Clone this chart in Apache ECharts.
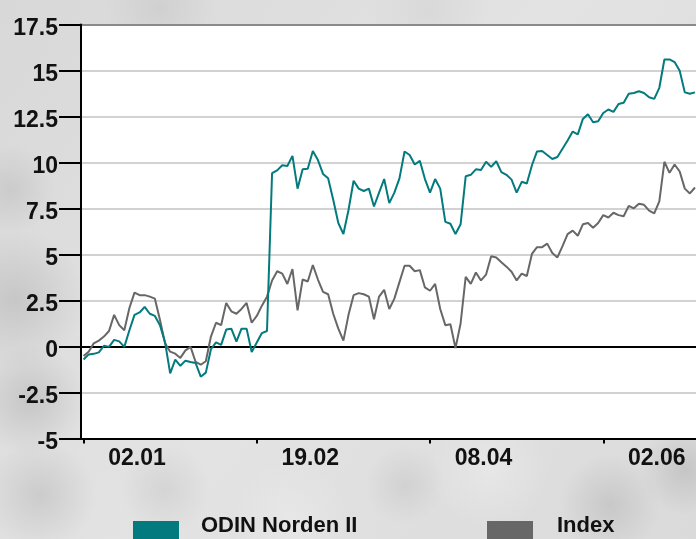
<!DOCTYPE html>
<html>
<head>
<meta charset="utf-8">
<script src="https://cdn.jsdelivr.net/npm/echarts@6/dist/echarts.min.js"></script>
<style>
  html, body { margin: 0; padding: 0; background: #dcdcdc; }
  #chart { width: 696px; height: 539px; }
</style>
</head>
<body>
<div id="chart"></div>
<script>
// Daily returns since start of year, in percent
const odinNorden = [-0.71,-0.43,-0.40,-0.32,0.04,-0.02,0.36,0.28,-0.02,0.88,1.72,1.85,2.15,1.78,1.66,1.16,0.22,-1.46,-0.71,-1.05,-0.77,-0.84,-0.90,-1.64,-1.42,-0.15,0.22,0.09,0.92,0.97,0.26,0.97,0.97,-0.30,0.22,0.73,0.84,9.42,9.57,9.85,9.81,10.36,8.58,9.63,9.66,10.63,10.13,9.38,9.14,7.98,6.71,6.11,7.42,9.01,8.58,8.45,8.58,7.61,8.36,9.10,7.79,8.36,9.14,10.60,10.41,9.89,10.09,9.10,8.36,9.10,8.58,6.77,6.67,6.11,6.64,9.25,9.33,9.63,9.59,10.04,9.76,10.07,9.48,9.33,9.07,8.36,8.95,8.86,9.85,10.60,10.63,10.41,10.19,10.30,10.75,11.20,11.68,11.53,12.37,12.62,12.19,12.24,12.69,12.88,12.75,13.18,13.25,13.74,13.78,13.87,13.78,13.55,13.46,14.06,15.60,15.60,15.46,14.99,13.81,13.74,13.81];
const indexSeries = [-0.52,-0.28,0.17,0.32,0.54,0.84,1.72,1.16,0.88,2.09,2.93,2.79,2.79,2.71,2.60,1.44,0.17,-0.28,-0.39,-0.62,-0.21,-0.02,-0.84,-0.99,-0.80,0.54,1.29,1.16,2.37,1.91,1.78,2.04,2.37,1.29,1.66,2.22,2.71,3.59,4.09,3.96,3.40,4.21,1.96,3.64,3.53,4.43,3.64,2.97,2.84,1.78,0.97,0.32,1.72,2.79,2.90,2.84,2.71,1.48,2.71,3.08,2.04,2.60,3.50,4.39,4.39,4.09,4.15,3.21,3.03,3.40,2.04,1.16,1.21,-0.09,1.25,3.78,3.40,4.02,3.59,3.91,4.90,4.84,4.58,4.34,4.06,3.59,3.96,3.83,5.03,5.40,5.40,5.59,5.08,4.84,5.46,6.11,6.30,6.02,6.64,6.71,6.45,6.71,7.14,7.01,7.27,7.14,7.08,7.64,7.51,7.76,7.70,7.38,7.23,7.89,10.04,9.44,9.89,9.51,8.58,8.32,8.64];

// x-axis: tick positions (trading-day index) and date labels
const tickDays = [0, 34, 68, 102];
const labelDays = [10.5, 44.5, 78.5, 112.5];
const dateLabels = ['02.01', '19.02', '08.04', '02.06'];
const seriesNames = ['ODIN Norden II', 'Index'];
const seriesColors = ['#037a7e', '#676767'];

const toPairs = arr => arr.map((v, i) => [i, v]);

const FONT = '"Liberation Sans", Arial, sans-serif';

// soft shaded patches for the backdrop
function blob(cx, cy, r, alpha, shade) {
  const c = 'rgba(' + shade + ',' + shade + ',' + shade + ',';
  return {
    type: 'circle', z: -10, silent: true,
    shape: { cx: cx, cy: cy, r: r },
    style: {
      fill: {
        type: 'radial', x: 0.5, y: 0.5, r: 0.5,
        colorStops: [
          { offset: 0, color: c + alpha + ')' },
          { offset: 1, color: c + '0)' }
        ]
      }
    }
  };
}

const chart = echarts.init(document.getElementById('chart'), null, { renderer: 'canvas' });

const axisText = { fontFamily: FONT, fontWeight: 'bold', fontSize: 23, color: '#111' };
const legendText = { fontFamily: FONT, fontWeight: 'bold', fontSize: 22, color: '#111', lineHeight: 26 };

// one legend block per series so each swatch sits at its own position
function legendFor(name, left, gap) {
  return {
    data: [name], left: left, top: 515, padding: 0,
    icon: 'rect', itemWidth: 46, itemHeight: 32, itemGap: 0,
    formatter: n => '{t|' + n + '}',
    textStyle: {
      rich: { t: Object.assign({ padding: [0, 0, 22, gap] }, legendText) }
    }
  };
}

chart.setOption({
  animation: false,
  backgroundColor: {
    type: 'linear', x: 0, y: 0, x2: 1, y2: 1,
    colorStops: [
      { offset: 0, color: '#d8d8d8' },
      { offset: 0.5, color: '#e3e3e3' },
      { offset: 1, color: '#dadada' }
    ]
  },
  graphic: [
    blob(15, 300, 70, 0.22, 120),
    blob(30, 400, 55, 0.22, 110),
    blob(10, 190, 45, 0.18, 130),
    blob(40, 495, 55, 0.2, 120),
    blob(165, 490, 45, 0.15, 130),
    blob(405, 485, 40, 0.15, 130),
    blob(610, 505, 50, 0.2, 120),
    blob(685, 470, 45, 0.2, 110),
    blob(160, 8, 55, 0.14, 140),
    blob(430, 10, 60, 0.1, 150),
    blob(290, 520, 60, 0.25, 250),
    blob(490, 470, 60, 0.3, 250)
  ],
  grid: {
    left: 81, right: 0, top: 24.5, bottom: 100.5,
    show: true, backgroundColor: '#ffffff', borderWidth: 0
  },
  legend: [
    legendFor(seriesNames[0], 133, 17),
    legendFor(seriesNames[1], 487, 19)
  ],
  xAxis: {
    type: 'value', min: -0.5, max: 120.2,
    axisLine: { show: true, onZero: false, lineStyle: { color: '#000', width: 2 } },
    axisTick: { show: true, customValues: tickDays, length: 5, lineStyle: { color: '#000', width: 2 } },
    axisLabel: Object.assign({
      customValues: labelDays, margin: 9,
      formatter: v => dateLabels[labelDays.indexOf(v)] || ''
    }, axisText),
    splitLine: { show: false }
  },
  yAxis: {
    type: 'value', min: -5, max: 17.5, interval: 2.5,
    axisLine: { show: true, onZero: false, lineStyle: { color: '#000', width: 2 } },
    axisTick: { show: true, length: 22, lineStyle: { color: '#000', width: 2 } },
    axisLabel: {
      margin: 23,
      formatter: v => '{n|' + v + '}',
      rich: { n: Object.assign({ padding: [9, 0, 0, 0] }, axisText) }
    },
    splitLine: {
      show: true,
      lineStyle: {
        width: 2,
        color: ['#000', '#d2d2d2', '#000', '#d2d2d2', '#d2d2d2', '#d2d2d2', '#d2d2d2', '#d2d2d2', '#d2d2d2', '#8a8a8a']
      }
    }
  },
  series: [
    {
      name: seriesNames[1], type: 'line', data: toPairs(indexSeries),
      showSymbol: false, color: seriesColors[1],
      lineStyle: { width: 2, color: seriesColors[1] }, z: 3
    },
    {
      name: seriesNames[0], type: 'line', data: toPairs(odinNorden),
      showSymbol: false, color: seriesColors[0],
      lineStyle: { width: 2, color: seriesColors[0] }, z: 4
    }
  ]
});
</script>
</body>
</html>
